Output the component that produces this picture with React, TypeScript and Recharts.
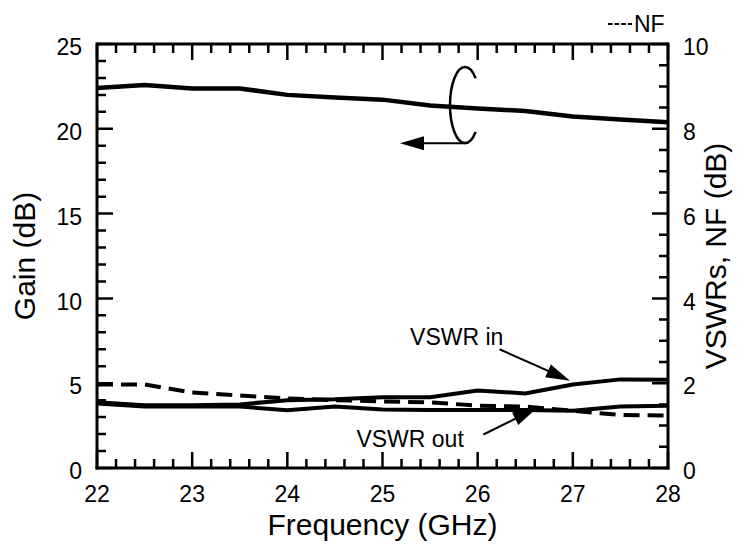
import React from 'react';
import { LineChart, Line, XAxis, YAxis, ReferenceLine, ReferenceDot, Legend, Label } from 'recharts';

const freq = [22, 22.5, 23, 23.5, 24, 24.5, 25, 25.5, 26, 26.5, 27, 27.5, 28];
const gain = [22.4, 22.58, 22.38, 22.38, 22.0, 21.85, 21.72, 21.38, 21.2, 21.05, 20.72, 20.55, 20.38];
const vswrIn = [1.55, 1.48, 1.48, 1.5, 1.6, 1.62, 1.67, 1.67, 1.83, 1.76, 1.97, 2.09, 2.08];
const vswrOut = [1.52, 1.45, 1.45, 1.45, 1.36, 1.45, 1.38, 1.37, 1.37, 1.37, 1.35, 1.45, 1.47];
const nf = [1.97, 1.97, 1.78, 1.71, 1.64, 1.6, 1.57, 1.55, 1.47, 1.45, 1.35, 1.25, 1.24];

const X_DOMAIN = [22, 28];
const GAIN_DOMAIN = [0, 25];
const RIGHT_DOMAIN = [0, 10];
const xMajorTicks = [22, 23, 24, 25, 26, 27, 28];
const xMinorTicks = [22.2, 22.4, 22.6, 22.8, 23.2, 23.4, 23.6, 23.8, 24.2, 24.4, 24.6, 24.8, 25.2, 25.4, 25.6, 25.8, 26.2, 26.4, 26.6, 26.8, 27.2, 27.4, 27.6, 27.8];
const gainTicks = [0, 5, 10, 15, 20, 25];
const gainMinorTicks = [1, 2, 3, 4, 6, 7, 8, 9, 11, 12, 13, 14, 16, 17, 18, 19, 21, 22, 23, 24];
const rightTicks = [0, 2, 4, 6, 8, 10];
const rightMinorTicks = [0.5, 1, 1.5, 2.5, 3, 3.5, 4.5, 5, 5.5, 6.5, 7, 7.5, 8.5, 9, 9.5];

// annotations (x in GHz, y on right axis)
const gainArrow = [{ x: 25.877, y: 7.66 }, { x: 25.184, y: 7.66 }];
const gainLoop = { x: 25.867, y: 8.56 };
const vinArrow = [{ x: 26.23, y: 2.8 }, { x: 26.97, y: 2.06 }];
const voutArrow = [{ x: 26.06, y: 0.79 }, { x: 26.62, y: 1.41 }];
const vinLabel = { x: 25.78, y: 3.09, text: 'VSWR in' };
const voutLabel = { x: 25.29, y: 0.69, text: 'VSWR out' };

const data = freq.map((f, i) => ({ f, gain: gain[i], vin: vswrIn[i], vout: vswrOut[i], nf: nf[i] }));
// two interior reference points (right-axis units) from which the chart scales are read
const scaleAnchors = [{ x: 23, y: 2 }, { x: 27, y: 8 }];

const FONT = '"Liberation Sans", Arial, Helvetica, sans-serif';
const MAJOR = 16;
const MINOR = 9;
const TICK_FS = 23;

// Inward tick marks on all four sides, using the pixel positions the chart gives for the anchors
const FrameTicks = (p: any) => {
  const { x1, y1, x2, y2 } = p;
  const a = scaleAnchors;
  const kx = (x2 - x1) / (a[1].x - a[0].x);
  const ky = (y2 - y1) / (a[1].y - a[0].y);
  const fx = (t: number) => x1 + (t - a[0].x) * kx;
  const fr = (v: number) => y1 + (v - a[0].y) * ky;
  const ratio = (RIGHT_DOMAIN[1] - RIGHT_DOMAIN[0]) / (GAIN_DOMAIN[1] - GAIN_DOMAIN[0]);
  const fl = (g: number) => fr(RIGHT_DOMAIN[0] + (g - GAIN_DOMAIN[0]) * ratio);
  const left = fx(X_DOMAIN[0]);
  const right = fx(X_DOMAIN[1]);
  const bottom = fr(RIGHT_DOMAIN[0]);
  const top = fr(RIGHT_DOMAIN[1]);
  let d = '';
  const xs: [number[], number][] = [[xMajorTicks, MAJOR], [xMinorTicks, MINOR]];
  xs.forEach(([arr, len]) => arr.forEach((t) => {
    const x = fx(t);
    d += `M${x} ${bottom}V${bottom - len}M${x} ${top}V${top + len}`;
  }));
  const ls: [number[], number][] = [[gainTicks, MAJOR], [gainMinorTicks, MINOR]];
  ls.forEach(([arr, len]) => arr.forEach((t) => {
    const y = fl(t);
    d += `M${left} ${y}H${left + len}`;
  }));
  const rs: [number[], number][] = [[rightTicks, MAJOR], [rightMinorTicks, MINOR]];
  rs.forEach(([arr, len]) => arr.forEach((t) => {
    const y = fr(t);
    d += `M${right} ${y}H${right - len}`;
  }));
  return <path d={d} stroke="#000" strokeWidth={2.5} fill="none" />;
};

const Arrow = (p: any) => {
  const { x1, y1, x2, y2 } = p;
  const dx = x2 - x1;
  const dy = y2 - y1;
  const len = Math.hypot(dx, dy) || 1;
  const ux = dx / len;
  const uy = dy / len;
  const hl = 24;
  const hw = 7;
  const bx = x2 - ux * hl;
  const by = y2 - uy * hl;
  const px = -uy * hw;
  const py = ux * hw;
  return (
    <g>
      <line x1={x1} y1={y1} x2={bx + ux * 2} y2={by + uy * 2} stroke="#000" strokeWidth={2} />
      <polygon points={`${x2},${y2} ${bx + px},${by + py} ${bx - px},${by - py}`} fill="#000" />
    </g>
  );
};

const Loop = (p: any) => {
  const { cx, cy } = p;
  const rx = 15;
  const ry = 38;
  const t = (45 * Math.PI) / 180;
  const sx = cx + rx * Math.cos(t);
  const sy1 = cy - ry * Math.sin(t);
  const sy2 = cy + ry * Math.sin(t);
  return (
    <path d={`M ${sx} ${sy1} A ${rx} ${ry} 0 1 0 ${sx} ${sy2}`} fill="none" stroke="#000" strokeWidth={2.5} />
  );
};

const makeNote = (text: string) => (p: any) => (
  <text x={p.cx} y={p.cy} textAnchor="middle" dominantBaseline="central" fontSize={23} fill="#000" fontFamily={FONT}>
    {text}
  </text>
);

const YTitle = (text: string, off: number) => (props: any) => {
  const vb = props.viewBox || {};
  const cx = vb.x + off;
  const cy = vb.y + vb.height / 2;
  return (
    <text x={cx} y={cy} transform={`rotate(-90 ${cx} ${cy})`} textAnchor="middle" dominantBaseline="central" fontSize={30} fill="#000" fontFamily={FONT}>
      {text}
    </text>
  );
};

const NFLegend = () => (
  <svg width={70} height={28} style={{ display: 'block' }}>
    <line x1={4} y1={14} x2={28} y2={14} stroke="#000" strokeWidth={2} strokeDasharray="4.6 2" />
    <text x={30} y={14} dominantBaseline="central" fontSize={23} fill="#000" fontFamily={FONT}>NF</text>
  </svg>
);

const frameStyle = { stroke: '#000', strokeWidth: 3, strokeLinecap: 'square' as const };
const tickText = { fill: '#000', fontSize: TICK_FS, fontFamily: FONT };

export default function App() {
  return (
    <div style={{ position: 'absolute', left: 0, top: 0, width: 744, height: 545, fontFamily: FONT, background: '#fff' }}>
      <LineChart width={744} height={545} data={data} margin={{ top: 44, right: 0, bottom: 0, left: 0 }}>
        <XAxis
          xAxisId="x" dataKey="f" type="number" domain={X_DOMAIN} allowDataOverflow ticks={xMajorTicks} interval={0}
          height={77} tickLine={false} tickSize={0} tickMargin={18} axisLine={frameStyle} tick={tickText}
        >
          <Label value="Frequency (GHz)" position="insideBottom" offset={10} fontSize={30} fill="#000" />
        </XAxis>

        <YAxis
          yAxisId="L" orientation="left" type="number" domain={GAIN_DOMAIN} allowDataOverflow ticks={gainTicks} interval={0}
          width={97} tickLine={false} tickSize={0} tickMargin={15} axisLine={frameStyle} tick={{ ...tickText, dy: 3 }}
        >
          <Label content={YTitle('Gain (dB)', 24)} />
        </YAxis>
        <YAxis
          yAxisId="R" orientation="right" type="number" domain={RIGHT_DOMAIN} allowDataOverflow ticks={rightTicks} interval={0}
          width={76} tickLine={false} tickSize={0} tickMargin={15} axisLine={frameStyle} tick={{ ...tickText, dy: 3 }}
        >
          <Label content={YTitle('VSWRs, NF (dB)', 47)} />
        </YAxis>

        {/* top frame line */}
        <ReferenceLine xAxisId="x" yAxisId="L" y={GAIN_DOMAIN[1]} stroke="#000" strokeWidth={3} />
        {/* inward tick marks */}
        <ReferenceLine xAxisId="x" yAxisId="R" segment={scaleAnchors} shape={FrameTicks} />

        <Line xAxisId="x" yAxisId="L" dataKey="gain" stroke="#000" strokeWidth={4.5} dot={false} isAnimationActive={false} />
        <Line xAxisId="x" yAxisId="R" dataKey="vin" stroke="#000" strokeWidth={4} dot={false} isAnimationActive={false} />
        <Line xAxisId="x" yAxisId="R" dataKey="vout" stroke="#000" strokeWidth={4} dot={false} isAnimationActive={false} />
        <Line xAxisId="x" yAxisId="R" dataKey="nf" stroke="#000" strokeWidth={4} strokeDasharray="16 8" dot={false} isAnimationActive={false} />

        <ReferenceDot xAxisId="x" yAxisId="R" x={gainLoop.x} y={gainLoop.y} shape={Loop} />
        <ReferenceLine xAxisId="x" yAxisId="R" segment={gainArrow} shape={Arrow} />
        <ReferenceLine xAxisId="x" yAxisId="R" segment={vinArrow} shape={Arrow} />
        <ReferenceLine xAxisId="x" yAxisId="R" segment={voutArrow} shape={Arrow} />
        <ReferenceDot xAxisId="x" yAxisId="R" x={vinLabel.x} y={vinLabel.y} shape={makeNote(vinLabel.text)} />
        <ReferenceDot xAxisId="x" yAxisId="R" x={voutLabel.x} y={voutLabel.y} shape={makeNote(voutLabel.text)} />

        <Legend layout="horizontal" verticalAlign="middle" content={NFLegend}
          wrapperStyle={{ position: 'absolute', top: 10, left: 604, width: 70, height: 28 }} />
      </LineChart>
    </div>
  );
}
